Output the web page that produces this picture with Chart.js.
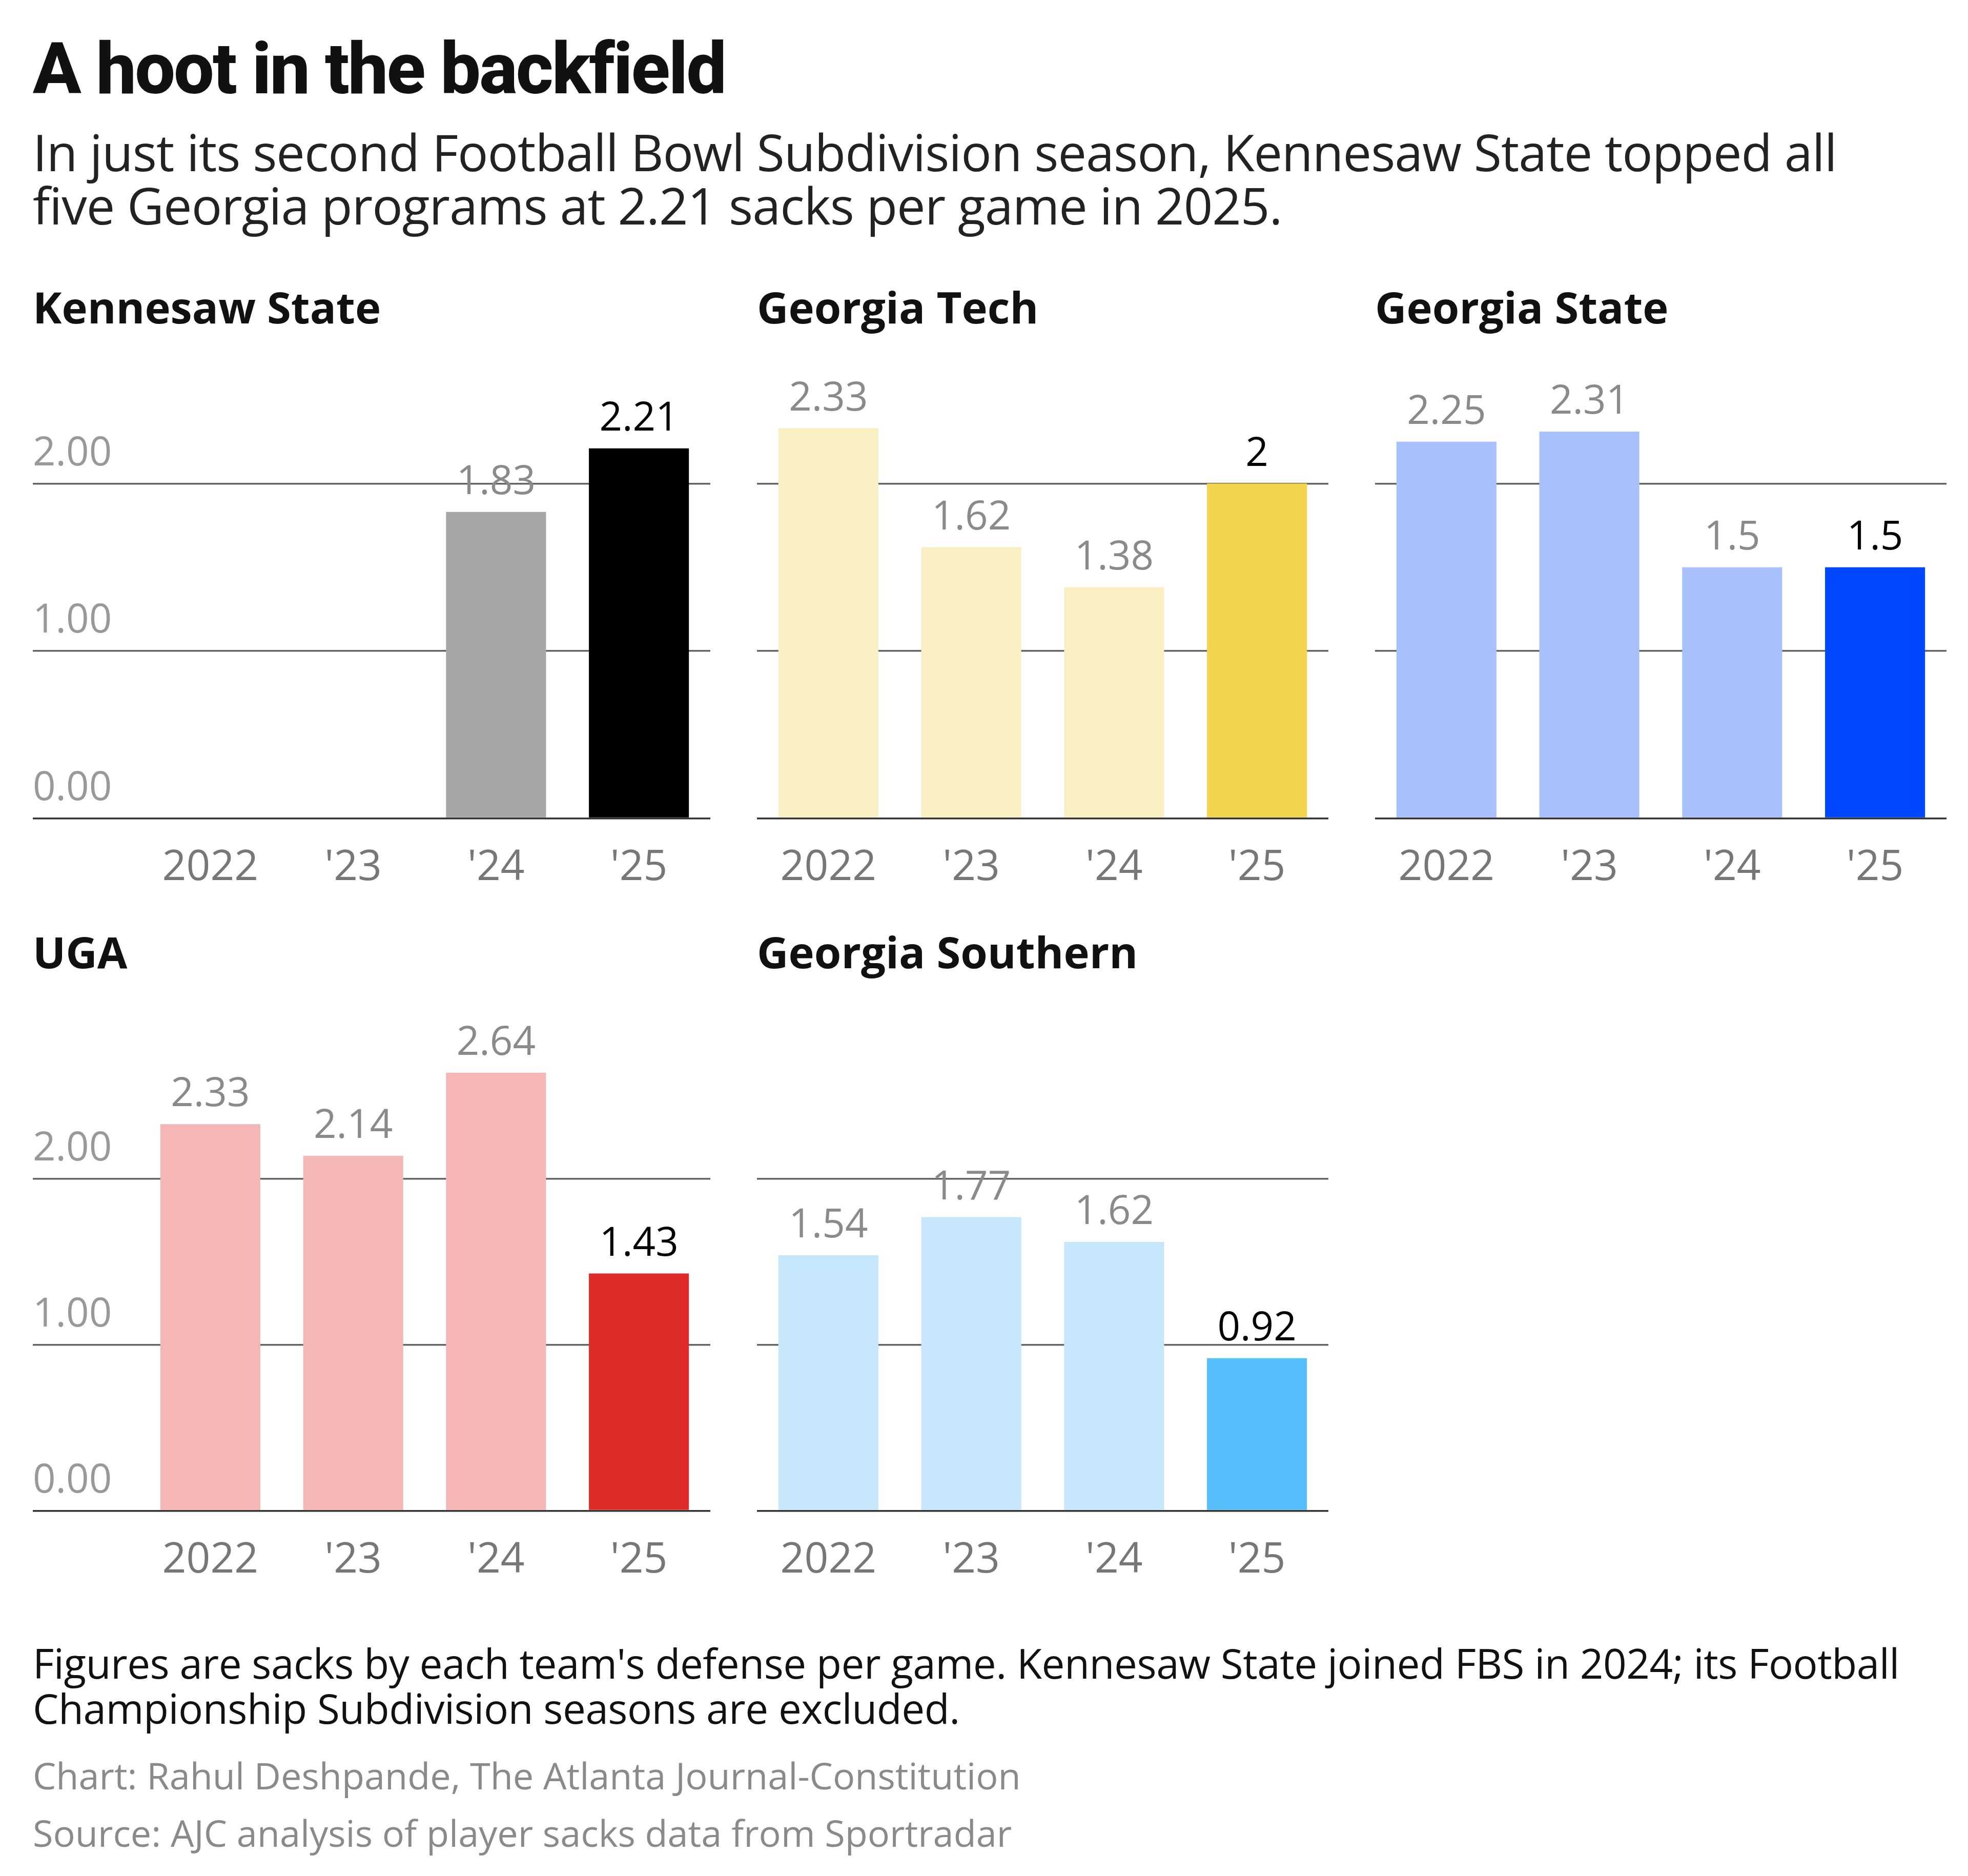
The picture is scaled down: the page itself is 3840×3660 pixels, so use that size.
<!DOCTYPE html>
<html>
<head>
<meta charset="utf-8">
<script src="https://cdn.jsdelivr.net/npm/chart.js@4"></script>
<style>
  body { margin: 0; background: #fff; width: 3840px; height: 3660px; position: relative; font-family: "Open Sans", sans-serif; color: #111; }
  .t { position: absolute; white-space: nowrap; }
  #title { left: 64px; top: 52px; font: 800 140px "Roboto", sans-serif; letter-spacing: -3px; }
  #sub { left: 64px; top: 244px; font-size: 99px; line-height: 104px; color: #222; letter-spacing: -1px; }
  .pt { font-weight: 700; font-size: 85px; }
  .note { left: 64px; font-size: 80px; line-height: 88px; color: #111; letter-spacing: -0.5px; }
  .cred { left: 64px; font-size: 72px; color: #8a8a8a; }
  canvas { position: absolute; }
</style>
</head>
<body>
<div class="t" id="title">A hoot in the backfield</div>
<div class="t" id="sub">In just its second Football Bowl Subdivision season, Kennesaw State topped all<br>five Georgia programs at 2.21 sacks per game in 2025.</div>
<div class="t pt" style="left:64px;top:540px">Kennesaw State</div>
<div class="t pt" style="left:1477px;top:540px">Georgia Tech</div>
<div class="t pt" style="left:2683px;top:540px">Georgia State</div>
<div class="t pt" style="left:64px;top:1798px">UGA</div>
<div class="t pt" style="left:1477px;top:1798px">Georgia Southern</div>
<div class="t note" style="top:3200px">Figures are sacks by each team's defense per game. Kennesaw State joined FBS in 2024; its Football<br>Championship Subdivision seasons are excluded.</div>
<div class="t cred" style="top:3414px">Chart: Rahul Deshpande, The Atlanta Journal-Constitution</div>
<div class="t cred" style="top:3526px">Source: AJC analysis of player sacks data from Sportradar</div>

<canvas id="c1" style="left:64px;top:625px"></canvas>
<canvas id="c2" style="left:1477px;top:625px"></canvas>
<canvas id="c3" style="left:2683px;top:625px"></canvas>
<canvas id="c4" style="left:64px;top:1925px"></canvas>
<canvas id="c5" style="left:1477px;top:1925px"></canvas>

<script>
const years = ['2022', "'23", "'24", "'25"];
const yTicks = [0, 1, 2];

const kennesaw = [null, null, 1.83, 2.21];
const gaTech = [2.33, 1.62, 1.38, 2];
const gaState = [2.25, 2.31, 1.5, 1.5];
const uga = [2.33, 2.14, 2.64, 1.43];
const gaSouthern = [1.54, 1.77, 1.62, 0.92];

const kennesawColors = ['#a6a6a6', '#a6a6a6', '#a6a6a6', '#000000'];
const gaTechColors = ['#faefc3', '#faefc3', '#faefc3', '#f2d44f'];
const gaStateColors = ['#a8c1fc', '#a8c1fc', '#a8c1fc', '#0047ff'];
const ugaColors = ['#f4b6b6', '#f4b6b6', '#f4b6b6', '#e02b2b'];
const gaSouthernColors = ['#c6e7fb', '#c6e7fb', '#c6e7fb', '#56befa'];

// value labels above each bar
const valueLabels = {
  id: 'valueLabels',
  afterDatasetsDraw(chart) {
    const ctx = chart.ctx;
    const ds = chart.data.datasets[0];
    chart.getDatasetMeta(0).data.forEach((bar, i) => {
      const v = ds.data[i];
      if (v == null) return;
      ctx.save();
      ctx.font = '78px "Open Sans", sans-serif';
      ctx.fillStyle = i === 3 ? '#000' : '#8a8a8a';
      ctx.textAlign = 'center';
      ctx.textBaseline = 'bottom';
      ctx.fillText(String(v), bar.x, bar.y - 18);
      ctx.restore();
    });
  }
};

function makeChart(id, data, colors, withAxis, width, height, padTop) {
  const c = document.getElementById(id);
  c.width = width; c.height = height;
  c.style.width = width + 'px'; c.style.height = height + 'px';
  return new Chart(c, {
    type: 'bar',
    data: { labels: years, datasets: [{ data, backgroundColor: colors, categoryPercentage: 1, barPercentage: 0.7 }] },
    options: {
      responsive: false,
      animation: false,
      devicePixelRatio: 1,
      layout: { padding: { top: padTop, left: 0, right: 0, bottom: 0 } },
      plugins: { legend: { display: false }, tooltip: { enabled: false } },
      scales: {
        x: {
          grid: { display: false },
          border: { display: false },
          ticks: { color: '#777', padding: 40, font: { size: 82, family: '"Open Sans", sans-serif' } }
        },
        y: {
          min: 0, max: 2.8,
          afterBuildTicks: ax => { ax.ticks = yTicks.map(v => ({ value: v })); },
          afterFit: ax => { if (withAxis) ax.width = 207; },
          border: { display: false },
          grid: {
            color: ctx => ctx.tick && ctx.tick.value === 0 ? '#333' : '#666',
            lineWidth: 3.5,
            drawTicks: withAxis,
            tickLength: 207
          },
          ticks: {
            display: withAxis,
            color: '#999',
            crossAlign: 'far',
            padding: 0,
            labelOffset: -58,
            font: { size: 78, family: '"Open Sans", sans-serif' },
            callback: v => v.toFixed(2)
          }
        }
      }
    },
    plugins: [valueLabels]
  });
}

makeChart('c1', kennesaw, kennesawColors, true, 1322, 1158, 57);
makeChart('c2', gaTech, gaTechColors, false, 1115, 1158, 57);
makeChart('c3', gaState, gaStateColors, false, 1115, 1158, 57);
makeChart('c4', uga, ugaColors, true, 1322, 1209, 116);
makeChart('c5', gaSouthern, gaSouthernColors, false, 1115, 1209, 116);
</script>
</body>
</html>
